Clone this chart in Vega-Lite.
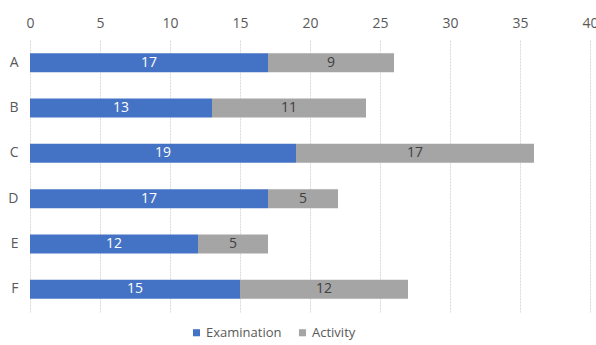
{
  "$schema": "https://vega.github.io/schema/vega-lite/v6.json",
  "width": 560,
  "height": 272,
  "autosize": {"type": "none"},
  "padding": {"left": 30, "top": 40, "right": 6, "bottom": 33},
  "background": "white",
  "config": {
    "view": {"stroke": null},
    "font": "Open Sans",
    "axis": {"labelFont": "Open Sans", "labelColor": "#595959", "labelFontSize": 14},
    "legend": {"labelFont": "Open Sans", "labelColor": "#595959", "labelFontSize": 13}
  },
  "data": {
    "values": [
      {"cat": "A", "series": "Examination", "order": 1, "value": 17},
      {"cat": "A", "series": "Activity", "order": 2, "value": 9},
      {"cat": "B", "series": "Examination", "order": 1, "value": 13},
      {"cat": "B", "series": "Activity", "order": 2, "value": 11},
      {"cat": "C", "series": "Examination", "order": 1, "value": 19},
      {"cat": "C", "series": "Activity", "order": 2, "value": 17},
      {"cat": "D", "series": "Examination", "order": 1, "value": 17},
      {"cat": "D", "series": "Activity", "order": 2, "value": 5},
      {"cat": "E", "series": "Examination", "order": 1, "value": 12},
      {"cat": "E", "series": "Activity", "order": 2, "value": 5},
      {"cat": "F", "series": "Examination", "order": 1, "value": 15},
      {"cat": "F", "series": "Activity", "order": 2, "value": 12}
    ]
  },
  "encoding": {
    "y": {
      "field": "cat", "type": "nominal", "sort": ["A", "B", "C", "D", "E", "F"],
      "scale": {"paddingInner": 0.58, "paddingOuter": 0.29},
      "axis": {"title": null, "ticks": false, "domain": false, "labelPadding": 12, "labelAngle": 0}
    },
    "x": {
      "field": "value", "type": "quantitative", "stack": "zero",
      "scale": {"domain": [0, 40], "nice": false},
      "axis": {"orient": "top", "title": null, "values": [0, 5, 10, 15, 20, 25, 30, 35, 40], "ticks": false, "domain": false, "labelPadding": 10, "gridColor": "#D9D9D9", "gridDash": [2, 1], "labelFlush": false}
    },
    "order": {"field": "order", "type": "quantitative"}
  },
  "layer": [
    {
      "mark": {"type": "bar"},
      "encoding": {
        "color": {
          "field": "series", "type": "nominal",
          "scale": {"domain": ["Examination", "Activity"], "range": ["#4472C4", "#A5A5A5"]},
          "legend": {"title": null, "orient": "none", "direction": "horizontal", "legendX": 160, "legendY": 286, "symbolType": "square", "symbolSize": 50, "columnPadding": 14, "labelOffset": 3}
        }
      }
    },
    {
      "mark": {"type": "text", "fontSize": 14, "font": "Open Sans"},
      "encoding": {
        "x": {"field": "value", "type": "quantitative", "stack": "zero", "bandPosition": 0.5},
        "text": {"field": "value", "type": "quantitative"},
        "color": {
          "condition": {"test": "datum.series === 'Examination'", "value": "white"},
          "value": "#404040"
        }
      }
    }
  ]
}
